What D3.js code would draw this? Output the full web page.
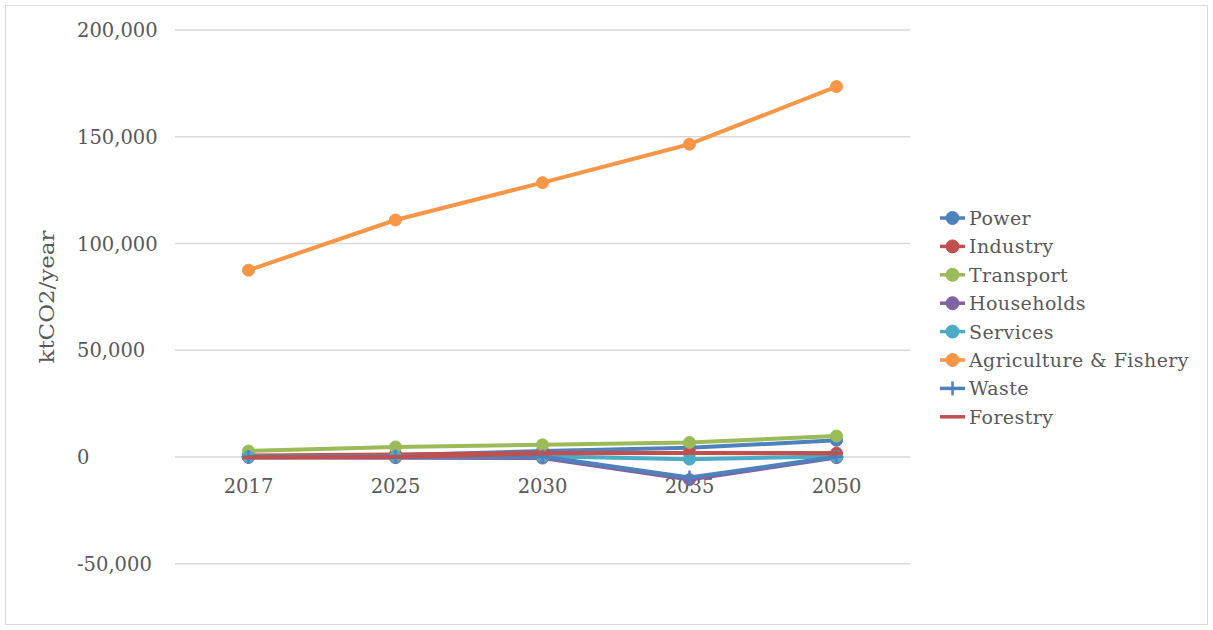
<!DOCTYPE html>
<html><head><meta charset="utf-8">
<script src="https://cdn.jsdelivr.net/npm/d3@7"></script>
<style>body{margin:0;background:#fff}svg{display:block}</style>
</head><body>
<svg id="c" width="1213" height="630"></svg>
<script>
const years = ["2017","2025","2030","2035","2050"];
const seriesNames = ["Power","Industry","Transport","Households","Services","Agriculture & Fishery","Waste","Forestry"];
const seriesColors = ["#4F81BD","#C0504D","#9BBB59","#8064A2","#4BACC6","#F79646","#4F81BD","#C0504D"];
const seriesMarkers = ["circle","circle","circle","circle","circle","circle","plus","dash"];
const power       = [300, 800, 2800, 4300, 7800];
const industry    = [700, 1200, 1900, 1900, 1800];
const transport   = [2800, 4700, 5700, 6800, 9800];
const households  = [-200, -300, -500, -10600, -300];
const services    = [100, 200, 300, -1000, 200];
const agriculture = [87500, 111000, 128500, 146500, 173500];
const waste       = [0, 100, 200, -9600, 100];
const forestry    = [-200, 0, 1700, 1900, 1700];
const seriesValues = [power, industry, transport, households, services, agriculture, waste, forestry];
const yTicks = [-50000, 0, 50000, 100000, 150000, 200000];
const yTitle = "ktCO2/year";

const svg = d3.select("#c");
const font = "'DejaVu Serif', serif";
const txt = "#595959";

svg.append("rect").attr("x",5.5).attr("y",5.5).attr("width",1202).attr("height",619)
  .attr("fill","#fff").attr("stroke","#d9d9d9").attr("stroke-width",1);

const x = d3.scalePoint().domain(years).range([175, 910]).padding(0.5);
const y = d3.scaleLinear().domain([-50000, 200000]).range([563.75, 30]);

// gridlines
svg.append("g").selectAll("line").data(yTicks).join("line")
  .attr("x1",175).attr("x2",910).attr("y1",d=>y(d)).attr("y2",d=>y(d))
  .attr("stroke","#d9d9d9").attr("stroke-width",1.5);

// y tick labels (left aligned)
const fmt = d => d3.format(",")(d).replace("\u2212","-");
svg.append("g").selectAll("text").data(yTicks).join("text")
  .attr("x",77).attr("y",d=>y(d)+7).text(d=>fmt(d))
  .attr("font-family",font).attr("font-size",19.5).attr("fill",txt);

// x axis labels
svg.append("g").selectAll("text").data(years).join("text")
  .attr("x",d=>x(d)).attr("y",y(0)+36).attr("text-anchor","middle").text(d=>d)
  .attr("font-family",font).attr("font-size",19.5).attr("fill",txt);

// y title
svg.append("text").attr("transform",`translate(54,${297}) rotate(-90)`)
  .attr("text-anchor","middle").text(yTitle)
  .attr("font-family",font).attr("font-size",19.5).attr("fill",txt)
  .attr("textLength",133).attr("lengthAdjust","spacingAndGlyphs");

function drawMarker(g, type, cx, cy, color, r){
  if(type==="circle"){
    g.append("circle").attr("cx",cx).attr("cy",cy).attr("r",r).attr("fill",color).attr("stroke",color);
  } else if(type==="plus"){
    g.append("line").attr("x1",cx-7).attr("x2",cx+7).attr("y1",cy).attr("y2",cy).attr("stroke",color).attr("stroke-width",2.5);
    g.append("line").attr("x1",cx).attr("x2",cx).attr("y1",cy-7).attr("y2",cy+7).attr("stroke",color).attr("stroke-width",2.5);
  } else if(type==="dash"){
    g.append("line").attr("x1",cx-6).attr("x2",cx+6).attr("y1",cy).attr("y2",cy).attr("stroke",color).attr("stroke-width",3.5);
  }
}

const line = d3.line().x((d,i)=>x(years[i])).y(d=>y(d));
seriesValues.forEach((vals,si)=>{
  const g = svg.append("g");
  g.append("path").attr("d",line(vals)).attr("fill","none")
    .attr("stroke",seriesColors[si]).attr("stroke-width",4).attr("stroke-linejoin","round");
  vals.forEach((v,i)=>drawMarker(g, seriesMarkers[si], x(years[i]), y(v), seriesColors[si], 6));
});

// legend
const lg = svg.append("g");
seriesNames.forEach((n,i)=>{
  const cy = 218 + i*28.4;
  const gi = lg.append("g");
  gi.append("line").attr("x1",940).attr("x2",965).attr("y1",cy).attr("y2",cy)
    .attr("stroke",seriesColors[i]).attr("stroke-width",3.5);
  if(seriesMarkers[i]==="circle") drawMarker(gi,"circle",952.5,cy,seriesColors[i],6.5);
  else if(seriesMarkers[i]==="plus") drawMarker(gi,"plus",952.5,cy,seriesColors[i]);
  gi.append("text").attr("x",969).attr("y",cy+7).text(n)
    .attr("font-family",font).attr("font-size",19).attr("letter-spacing",0.4).attr("fill",txt);
});
</script>
</body></html>
